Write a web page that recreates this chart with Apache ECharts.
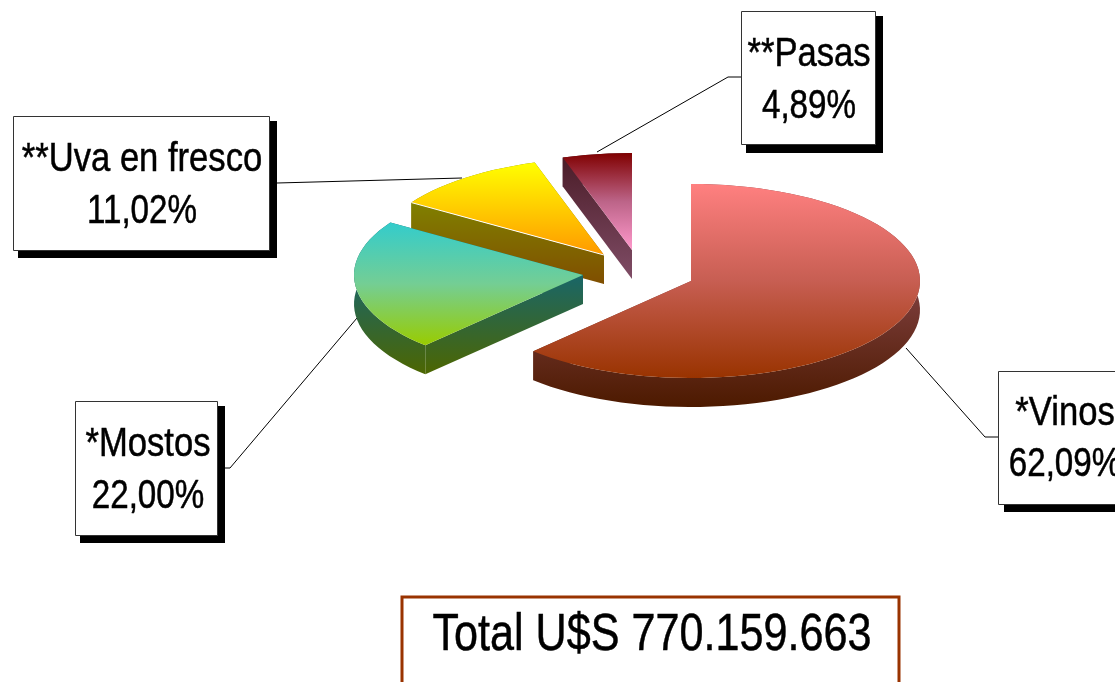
<!DOCTYPE html>
<html><head><meta charset="utf-8">
<style>html,body{margin:0;padding:0;background:#fff}#c{width:1115px;height:682px}</style>
<script src="https://cdn.jsdelivr.net/npm/echarts@6/dist/echarts.min.js"></script>
</head><body><div id="c"></div>
<script>
const categories = ['*Vinos', '*Mostos', '**Uva en fresco', '**Pasas'];
const shares = [62.09, 22.00, 11.02, 4.89];
const shareLabels = ['62,09%', '22,00%', '11,02%', '4,89%'];
const totalLabel = 'Total U$S 770.159.663';

// layout
const RX = 229, RY = 97, DEPTH = 29;
const apex = [[691, 281], [583, 275], [604, 255], [632, 250]];
const topGrad = [['#FF8080', '#C75E52', '#993300'], ['#33CCCC', '#74CE94', '#99CC00'], ['#FFFF00', '#FFCC00', '#FF9900'], ['#800000', '#BC6488', '#FF99CC']];
const sideGrad = [['#804040', '#4D1A00', 282, 406], ['#1A6666', '#4D6600', 277, 375], ['#808000', '#804D00', 203, 286], ['#4A1C28', '#804D66', 157, 280]];
const boxes = [
  {x: 998, y: 371, w: 142, h: 133, s: [1004, 377, 142, 135], cx: 1065, b1: 424, b2: 475, line: [[906, 348], [985, 437], [998, 437]]},
  {x: 75, y: 401, w: 142, h: 134, s: [80, 406, 145, 137], cx: 148, b1: 455, b2: 507, line: [[225, 468], [230, 468], [357, 318]]},
  {x: 13, y: 116, w: 256, h: 134, s: [18, 121, 259, 137], cx: 142, b1: 170, b2: 222, line: [[277, 183], [462, 178]]},
  {x: 741, y: 11, w: 134, h: 133, s: [746, 16, 137, 137], cx: 809, b1: 65, b2: 117, line: [[597, 152], [728, 77], [741, 77]]}
];

function pct(i) { return shares.slice(0, i).reduce((a, b) => a + b, 0); }
function sideGradient(c0, c1, y0, y1) {
  return {type: 'linear', global: true, x: 0, y: y0, x2: 0, y2: y1,
    colorStops: [{offset: 0, color: c0}, {offset: 1, color: c1}]};
}
function topGradient(c) {
  return {type: 'linear', x: 0, y: 0, x2: 0, y2: 1,
    colorStops: [{offset: 0, color: c[0]}, {offset: 0.5, color: c[1]}, {offset: 1, color: c[2]}]};
}
function outline(i) {
  const a0 = pct(i) / 100 * 2 * Math.PI, a1 = pct(i + 1) / 100 * 2 * Math.PI;
  const n = Math.max(6, Math.round((a1 - a0) / 0.05));
  const c = apex[i], pts = [[c[0], c[1]]];
  for (let k = 0; k <= n; k++) {
    const a = a0 + (a1 - a0) * k / n;
    pts.push([c[0] + RX * Math.sin(a), c[1] - RY * Math.cos(a)]);
  }
  return pts;
}
const shift = p => [p[0], p[1] + DEPTH];
function renderSlice(params, api) {
  const i = api.value(0);
  const pts = outline(i);
  const sg = sideGrad[i];
  const sideFill = sideGradient(sg[0], sg[1], sg[2], sg[3]);
  const arc = pts.slice(1);
  const faces = [
    arc.concat(arc.slice().reverse().map(shift)),
    [pts[0], pts[1], shift(pts[1]), shift(pts[0])],
    [pts[0], pts[pts.length - 1], shift(pts[pts.length - 1]), shift(pts[0])]
  ];
  const children = faces.map(f => ({type: 'polygon', shape: {points: f}, style: {fill: sideFill}}));
  children.push({type: 'polygon', shape: {points: pts}, style: {fill: topGradient(topGrad[i])}});
  if (i === 2) {
    children.push({type: 'polyline', shape: {points: [pts[0], pts[1]]}, style: {stroke: '#fff', lineWidth: 1, fill: null}});
  }
  return {type: 'group', children};
}

const graphics = [];
function addText(str, cx, base, size, sx) {
  graphics.push({type: 'text', x: cx, y: base - size * 0.345 + 3.5, z: 20, scaleX: sx,
    style: {text: str, fill: '#000', stroke: '#000', lineWidth: 0.5, fontFamily: 'Liberation Sans', fontSize: size, align: 'center', verticalAlign: 'middle'}});
}
boxes.forEach((b, i) => {
  graphics.push({type: 'polyline', z: 5, shape: {points: b.line}, style: {stroke: '#000', lineWidth: 1, fill: null}});
  graphics.push({type: 'rect', z: 6, shape: {x: b.s[0], y: b.s[1], width: b.s[2], height: b.s[3]}, style: {fill: '#000'}});
  graphics.push({type: 'rect', z: 7, shape: {x: b.x + .5, y: b.y + .5, width: b.w, height: b.h}, style: {fill: '#fff', stroke: '#333', lineWidth: 1}});
  addText(categories[i], b.cx, b.b1, 40, 0.865);
  addText(shareLabels[i], b.cx, b.b2, 40, 0.83);
});
graphics.push({type: 'rect', z: 7, shape: {x: 402, y: 597, width: 497, height: 110}, style: {fill: '#fff', stroke: '#993300', lineWidth: 3}});
addText(totalLabel, 652, 650, 52, 0.83);

const chart = echarts.init(document.getElementById('c'), null, {renderer: 'canvas'});
chart.setOption({
  animation: false,
  backgroundColor: '#fff',
  graphic: graphics,
  series: [{
    type: 'custom', coordinateSystem: 'none', silent: true, clip: false, z: 10,
    renderItem: renderSlice,
    data: [3, 2, 1, 0].map(i => ({name: categories[i], value: [i, shares[i]]}))
  }]
});
</script></body></html>
